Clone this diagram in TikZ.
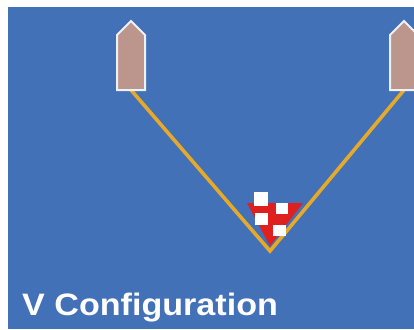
\documentclass[tikz,border=0pt]{standalone}
\usepackage{fontspec}
\setmainfont{Liberation Sans}

\definecolor{sea}{RGB}{66,113,184}
\definecolor{hull}{RGB}{188,150,140}
\definecolor{rope}{RGB}{230,170,40}
\definecolor{netred}{RGB}{222,32,30}

\begin{document}
\begin{tikzpicture}[x=1pt, y=-1pt,
    boat/.style={fill=hull, draw=white!90!sea, line width=2pt},
    tow/.style={draw=rope, line width=3.6pt},
    title/.style={text=white, font=\bfseries\fontsize{31}{31}\selectfont, inner sep=0pt}]
  \clip (0,0) rectangle (414,329);
  \fill[white] (0,0) rectangle (414,329);
  \fill[sea] (8,7) rectangle (414,329);

  % tow lines from both boats down to the net
  \coordinate (port) at (131,90);
  \coordinate (stbd) at (404,90);
  \coordinate (net) at (270,251);
  \draw[tow] (port) -- (net) -- (stbd);

  % the two boats
  \foreach \bx in {131,404}
    \draw[boat] (\bx-14,90) -- (\bx-14,35) -- (\bx,21) -- (\bx+14,35) -- (\bx+14,90) -- cycle;

  % net, red with white squares
  \fill[netred] (247,203) -- (303,203) -- (270,246) -- cycle;
  \fill[white] (254,192) rectangle (268,206);
  \fill[white] (276,203) rectangle (288,214);
  \fill[white] (255,213) rectangle (268,225);
  \fill[white] (273,225) rectangle (286,236);

  \node[title, anchor=base west, xscale=1.1] (caption) at (22,315) {V Configuration};
\end{tikzpicture}
\end{document}
